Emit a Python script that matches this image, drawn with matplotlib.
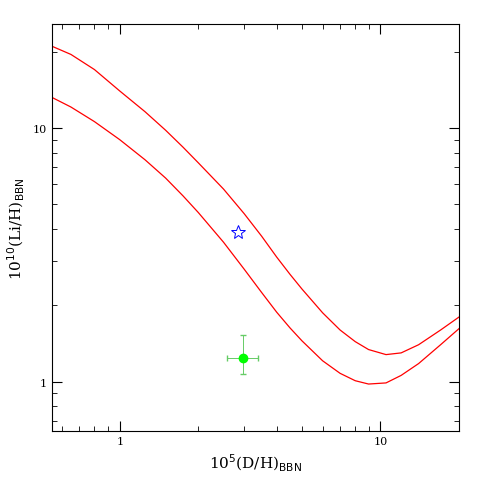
import matplotlib
matplotlib.use("Agg")
import matplotlib.pyplot as plt

upper_x = [0.55, 0.65, 0.8, 1, 1.25, 1.5, 1.75, 2, 2.5, 3, 3.5, 4, 4.5, 5, 6, 7, 8, 9, 10.5, 12, 14, 17, 20]
upper_y = [21, 19.5, 17.0, 14, 11.6, 9.8, 8.4, 7.3, 5.75, 4.6, 3.75, 3.1, 2.65, 2.32, 1.87, 1.6, 1.44, 1.34, 1.28, 1.3, 1.4, 1.6, 1.8]
lower_x = [0.55, 0.65, 0.8, 1, 1.25, 1.5, 1.75, 2, 2.5, 3, 3.5, 4, 4.5, 5, 6, 7, 8, 9, 10.5, 12, 14, 17, 20]
lower_y = [13.2, 12.1, 10.6, 9.0, 7.5, 6.35, 5.4, 4.65, 3.55, 2.78, 2.25, 1.88, 1.63, 1.45, 1.21, 1.08, 1.01, 0.98, 0.99, 1.06, 1.18, 1.4, 1.62]
star_x, star_y = [2.83], [3.9]
pt_x, pt_y = [2.96], [1.24]
pt_xerr = [[2.96 - 2.59], [3.38 - 2.96]]
pt_yerr = [[1.24 - 1.07], [1.53 - 1.24]]

plt.rcParams['font.family'] = ['DejaVu Serif']
fig = plt.figure(figsize=(4.85, 4.85), dpi=100)
ax = fig.add_axes([52/485, 53/485, 407/485, 407/485])
ax.plot(upper_x, upper_y, color='red', lw=0.9)
ax.plot(lower_x, lower_y, color='red', lw=0.9)
ax.plot(star_x, star_y, marker='*', ms=10, mfc='none', mec='blue', mew=0.7, ls='none')
ax.errorbar(pt_x, pt_y, xerr=pt_xerr, yerr=pt_yerr, fmt='o', color='lime', ms=6,
            ecolor='#66cc66', elinewidth=0.7, capsize=2)
ax.set_xscale('log'); ax.set_yscale('log')
ax.set_xlim(0.55, 20); ax.set_ylim(0.64, 25.7)
ax.set_xticks([1, 10]); ax.set_xticklabels(['1', '10'])
ax.set_yticks([1, 10]); ax.set_yticklabels(['1', '10'])
ax.tick_params(which='both', direction='in', top=True, right=True, labelsize=8)
ax.tick_params(which='major', length=7)
ax.tick_params(which='minor', length=3.5)
ax.set_xlabel(r'10$^5$(D/H)$_{\rm BBN}$', fontsize=11)
ax.set_ylabel(r'10$^{10}$(Li/H)$_{\rm BBN}$', fontsize=11)
fig.savefig('out.png', dpi=100)
